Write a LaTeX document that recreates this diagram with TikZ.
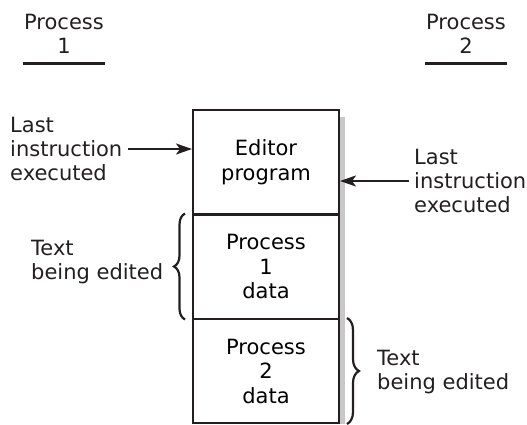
\documentclass[tikz,border=0pt]{standalone}
\usepackage{fontspec}
\setmainfont{DejaVu Sans}
\usepackage{tikz}
\usetikzlibrary{positioning, arrows.meta, calc, decorations.pathreplacing}
\definecolor{cInk}   {HTML}{231F20}
\definecolor{cShade} {HTML}{C8C8C8}
\tikzset{
  memcell/.style={draw=cInk, line width=2pt, minimum width=146pt, minimum height=104pt,
    inner sep=0pt, align=center, font=\fontsize{21}{24.5}\selectfont},
  lbl/.style={align=left, inner sep=0pt, font=\fontsize{21}{24}\selectfont, text=cInk},
  hdr/.style={align=center, inner sep=0pt, font=\fontsize{21}{24}\selectfont, text=cInk},
  ptr/.style={line width=2.2pt, draw=cInk, -{Stealth[length=16pt, width=11pt, inset=4pt]}},
  curly/.style={line width=2.2pt, draw=cInk, decorate,
    decoration={brace, amplitude=#1}},
}
\begin{document}
\begin{tikzpicture}[x=1pt, y=-1pt]
  \useasboundingbox (0,0) rectangle (527,424);
  % shadow of the memory block
  \fill[cShade] (339,117) rectangle (345,424);
  % memory block
  \node[memcell] (editor) at (266,162)   {Editor\\program};
  \node[memcell] (data1)  at (266,266.5) {Process\\1\\data};
  \node[memcell] (data2)  at (266,371)   {Process\\2\\data};
  % process headers
  \node[hdr] (hdr1) at (64,34)  {Process\\1};
  \node[hdr] (hdr2) at (466,34) {Process\\2};
  \draw[line width=2.8pt, cInk] ([xshift=-0.5pt, yshift=-10pt]hdr1.south west) -- ([xshift=0.5pt, yshift=-10pt]hdr1.south east);
  \draw[line width=2.8pt, cInk] ([xshift=-0.5pt, yshift=-10pt]hdr2.south west) -- ([xshift=0.5pt, yshift=-10pt]hdr2.south east);
  % program counters
  \node[lbl, text width=108pt, anchor=west] (lastL) at (10,149)  {Last\\instruction\\executed};
  \node[lbl, anchor=west] (lastR) at (414,181) {Last\\instruction\\executed};
  \draw[ptr, shorten <=10pt] (lastL.east) -- (lastL.east -| editor.west);
  \draw[ptr, shorten <=5pt] (lastR.west) -- (lastR.west -| editor.east);
  % text being edited
  \draw[curly=11pt] ([xshift=-7pt]data1.south west) -- ([xshift=-7pt]data1.north west);
  \draw[curly=12pt] ([xshift=7pt]data2.north east) -- ([xshift=7pt]data2.south east);
  \node[lbl, anchor=west] (textL) at (31,262)  {Text\\being edited};
  \node[lbl, anchor=west] (textR) at (377,372) {Text\\being edited};
\end{tikzpicture}
\end{document}
